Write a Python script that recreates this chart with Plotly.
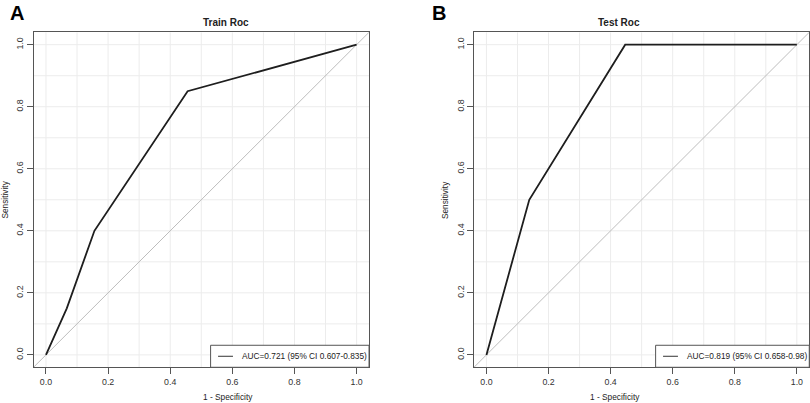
import plotly.graph_objects as go

# ROC curve points
train_fpr = [0.0, 0.067, 0.156, 0.456, 1.0]
train_tpr = [0.0, 0.15, 0.40, 0.85, 1.0]
test_fpr = [0.0, 0.138, 0.447, 1.0]
test_tpr = [0.0, 0.50, 1.0, 1.0]

titles = ["Train Roc", "Test Roc"]
panel_tags = ["A", "B"]
auc_labels = ["AUC=0.721 (95% CI 0.607-0.835)", "AUC=0.819 (95% CI 0.658-0.98)"]
ticks = [0.0, 0.2, 0.4, 0.6, 0.8, 1.0]
tick_text = ["0.0", "0.2", "0.4", "0.6", "0.8", "1.0"]
grid_vals = [i / 10 for i in range(11)]

FONT = "Liberation Sans, Arial, sans-serif"
RNG = [-0.04, 1.04]

fig = go.Figure()

x_domains = [[0.0414, 0.4556], [0.5852, 0.9991]]
y_domain = [0.0886, 0.9199]
legend_left = [0.530, 0.545]
tag_x = [0.010, 0.531]

curves = [(train_fpr, train_tpr), (test_fpr, test_tpr)]

for i, (fpr, tpr) in enumerate(curves):
    xa = "x" if i == 0 else "x2"
    ya = "y" if i == 0 else "y2"
    sfx = "" if i == 0 else "2"

    # faint grid
    for g in grid_vals:
        fig.add_shape(type="line", xref=xa, yref=ya, x0=g, x1=g, y0=RNG[0], y1=RNG[1],
                      line=dict(color="#ececec", width=1), layer="below")
        fig.add_shape(type="line", xref=xa, yref=ya, x0=RNG[0], x1=RNG[1], y0=g, y1=g,
                      line=dict(color="#ececec", width=1), layer="below")

    # chance diagonal
    fig.add_trace(go.Scatter(x=RNG, y=RNG, mode="lines", xaxis=xa, yaxis=ya,
                             line=dict(color="#bdbdbd", width=1), showlegend=False,
                             hoverinfo="skip"))
    fig.add_trace(go.Scatter(x=fpr, y=tpr, mode="lines", xaxis=xa, yaxis=ya,
                             line=dict(color="#1e1e1e", width=1.8), showlegend=False))

    # legend box, drawn by hand like base R legend()
    lx = legend_left[i]
    fig.add_shape(type="rect", xref=xa, yref=ya, x0=lx, x1=RNG[1], y0=RNG[0], y1=0.031,
                  line=dict(color="#555555", width=1), fillcolor="white")
    fig.add_shape(type="line", xref=xa, yref=ya, x0=lx + 0.024, x1=lx + 0.072,
                  y0=-0.0045, y1=-0.0045, line=dict(color="#333333", width=1))
    fig.add_annotation(x=lx + 0.096, y=-0.0045, xref=xa, yref=ya, text=auc_labels[i],
                       showarrow=False, xanchor="left", yanchor="middle",
                       font=dict(family=FONT, size=8.3, color="#222222"))

    d = x_domains[i]
    fig.add_annotation(x=(d[0] + d[1]) / 2, y=0.945, xref="paper", yref="paper",
                       text="<b>%s</b>" % titles[i], showarrow=False, yanchor="middle",
                       font=dict(family=FONT, size=10, color="#222222"))
    fig.add_annotation(x=(d[0] + d[1]) / 2, y=0.015, xref="paper",
                       yref="paper", text="1 - Specificity", showarrow=False,
                       yanchor="middle", font=dict(family=FONT, size=8.3, color="#222222"))
    fig.add_annotation(x=d[0] - 0.0355, y=(y_domain[0] + y_domain[1]) / 2, xref="paper",
                       yref="paper", text="Sensitivity", showarrow=False, textangle=-90,
                       xanchor="center", font=dict(family=FONT, size=8.3, color="#222222"))

    fig.add_annotation(x=tag_x[i], y=1.0, xref="paper", yref="paper",
                       text="<b>%s</b>" % panel_tags[i], showarrow=False,
                       xanchor="left", yanchor="top",
                       font=dict(family=FONT, size=20, color="#000000"))

    axis_common = dict(range=RNG, tickvals=ticks, ticktext=tick_text, ticks="outside",
                       ticklen=6, tickcolor="#555555", showgrid=False, zeroline=False,
                       showline=True, linecolor="#555555", linewidth=1, mirror=True,
                       tickfont=dict(family=FONT, size=8.8, color="#333333"),
                       fixedrange=True)
    fig.layout["xaxis" + sfx] = dict(axis_common, domain=d, anchor=ya)
    fig.layout["yaxis" + sfx] = dict(axis_common, domain=y_domain, anchor=xa, tickangle=-90)

fig.update_layout(width=810, height=403, margin=dict(l=0, r=0, t=0, b=0),
                  paper_bgcolor="white", plot_bgcolor="white", showlegend=False)

# drop the browser's default body margin so the figure sits at the window origin
fig.write_html("out.html", config={"displayModeBar": False},
               post_script="document.body.style.margin='0';")
